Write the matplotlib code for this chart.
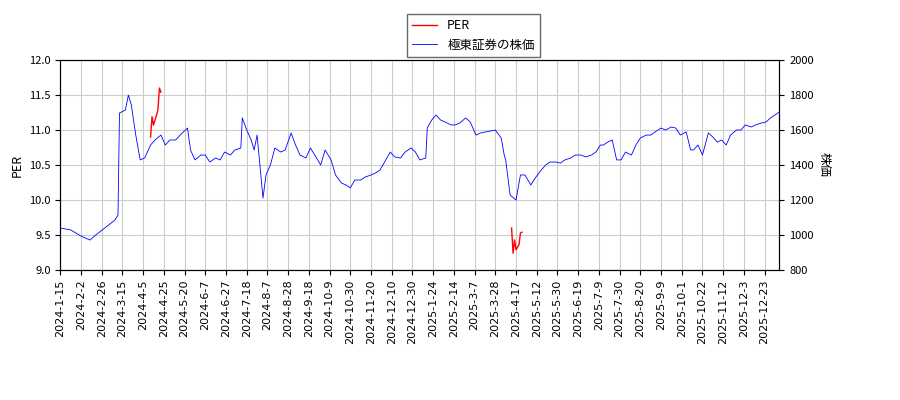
import matplotlib
matplotlib.use("Agg")
import matplotlib.pyplot as plt

plt.rcParams['font.family'] = ['Noto Sans CJK JP', 'DejaVu Sans']

# tick labels, one every 14 trading days
tick_labels = ["2024-1-15", "2024-2-2", "2024-2-26", "2024-3-15", "2024-4-5", "2024-4-25",
               "2024-5-20", "2024-6-7", "2024-6-27", "2024-7-18", "2024-8-7", "2024-8-28",
               "2024-9-18", "2024-10-9", "2024-10-30", "2024-11-20", "2024-12-10", "2024-12-30",
               "2025-1-24", "2025-2-14", "2025-3-7", "2025-3-28", "2025-4-17", "2025-5-12",
               "2025-5-30", "2025-6-19", "2025-7-9", "2025-7-30", "2025-8-20", "2025-9-9",
               "2025-10-1", "2025-10-22", "2025-11-12", "2025-12-3", "2025-12-23"]

# stock price: trading-day index and price (yen)
price_idx = [0, 7, 14, 20, 24, 30, 37, 39, 40, 44, 46, 48, 51, 54, 57, 61, 64, 68, 71, 74, 78,
             81, 86, 88, 91, 95, 98, 101, 105, 108, 111, 115, 118, 122, 123, 126, 129, 131, 133,
             137, 139, 142, 145, 149, 152, 156, 159, 162, 166, 169, 172, 176, 179, 183, 186, 190,
             193, 196, 199, 203, 206, 210, 213, 216, 220, 223, 226, 230, 233, 237, 240, 243, 247,
             248, 251, 254, 257, 260, 264, 267, 270, 274, 277, 281, 284, 294, 298, 300, 301, 304,
             308, 311, 314, 318, 321, 325, 328, 331, 335, 338, 341, 345, 348, 352, 355, 359, 362,
             365, 367, 370, 373, 376, 379, 382, 386, 389, 392, 396, 399, 402, 406, 409, 413, 416,
             419, 423, 426, 428, 431, 434, 438, 441, 444, 447, 450, 453, 457, 460, 463, 467, 470,
             474, 477, 480, 483, 486]
price = [1040, 1029, 994, 971, 1000, 1040, 1086, 1114, 1697, 1714, 1800, 1743, 1571, 1429, 1440,
         1514, 1543, 1571, 1514, 1543, 1543, 1571, 1611, 1486, 1429, 1457, 1457, 1417, 1440, 1429,
         1474, 1457, 1486, 1497, 1669, 1600, 1543, 1486, 1571, 1211, 1343, 1400, 1497, 1474, 1486,
         1583, 1514, 1457, 1440, 1497, 1457, 1400, 1486, 1429, 1343, 1297, 1286, 1269, 1314, 1314,
         1331, 1343, 1354, 1371, 1429, 1474, 1446, 1440, 1474, 1497, 1474, 1429, 1440, 1611, 1657,
         1686, 1657, 1646, 1629, 1629, 1640, 1669, 1646, 1571, 1583, 1600, 1554, 1457, 1429, 1229,
         1200, 1343, 1343, 1286, 1326, 1371, 1400, 1417, 1417, 1411, 1429, 1440, 1457, 1457, 1446,
         1457, 1474, 1514, 1514, 1531, 1543, 1429, 1429, 1474, 1457, 1514, 1554, 1571, 1571, 1589,
         1611, 1600, 1617, 1611, 1571, 1589, 1486, 1486, 1514, 1457, 1583, 1560, 1531, 1543, 1514,
         1571, 1600, 1600, 1629, 1617, 1629, 1640, 1646, 1669, 1686, 1703, 1760, 1743, 1783]
n = min(len(price_idx), len(price))
price_idx = price_idx[:n]
price = price[:n]

# PER, two short segments
per1_idx = [61, 62, 63, 65, 66, 67, 68]
per1 = [10.9, 11.19, 11.07, 11.21, 11.29, 11.6, 11.54]
per2_idx = [305, 306, 307, 308, 310, 311, 312]
per2 = [9.6, 9.24, 9.43, 9.29, 9.36, 9.53, 9.54]

fig, ax = plt.subplots(figsize=(9, 4), dpi=100)
fig.subplots_adjust(left=0.067, right=0.866, top=0.85, bottom=0.325)
ax2 = ax.twinx()

l1, = ax.plot(per1_idx, per1, color='red', lw=1, label='PER')
ax.plot(per2_idx, per2, color='red', lw=1)
l2, = ax2.plot(price_idx, price, color='blue', lw=0.6, label='極東証券の株価')

ax.set_ylim(9, 12)
ax2.set_ylim(800, 2000)
ax.set_xlim(0, 486)
ax.set_xticks(range(0, 14 * len(tick_labels), 14))
ax.set_xticklabels(tick_labels, rotation=90, fontsize=8, family='DejaVu Sans')
ax.tick_params(axis='y', labelsize=8)
ax2.tick_params(axis='y', labelsize=8)
ax.set_ylabel('PER', fontsize=9)
ax2.set_ylabel('株価', fontsize=9, rotation=270, labelpad=12)
ax.grid(True, color='#cccccc', lw=0.8)

fig.legend(handles=[l1, l2], loc='upper center', bbox_to_anchor=(0.526, 0.98),
           fontsize=9, fancybox=False, edgecolor='#444444')

fig.savefig('out.png')
